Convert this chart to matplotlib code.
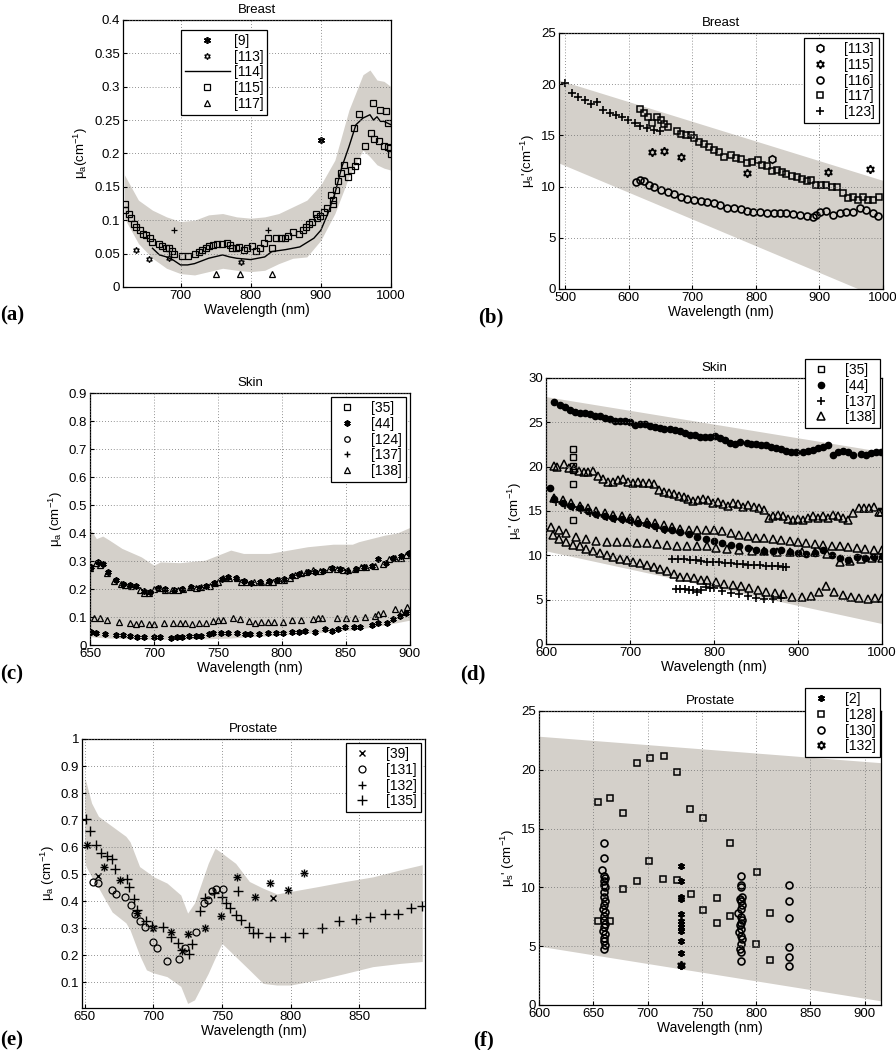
import numpy as np
import matplotlib
matplotlib.use('Agg')
import matplotlib.pyplot as plt

plt.rcParams['font.family'] = ['Liberation Sans', 'DejaVu Sans']
plt.rcParams['mathtext.default'] = 'regular'
plt.rcParams['font.size'] = 9

BAND = '#d4d0ca'
ASTER = (6, 2, 0)
HEXA = (6, 1, 0)

# ---------------- (a) Breast, absorption ----------------
a_band_wl = [620, 640, 660, 680, 700, 720, 740, 760, 780, 800, 820, 840, 860, 880, 900,
             920, 940, 960, 970, 980, 990, 1000]
a_band_hi = [0.168, 0.13, 0.115, 0.105, 0.098, 0.1, 0.108, 0.11, 0.105, 0.103, 0.105, 0.11,
             0.12, 0.13, 0.153, 0.19, 0.265, 0.318, 0.325, 0.31, 0.308, 0.30]
a_band_lo = [0.103, 0.065, 0.043, 0.028, 0.02, 0.018, 0.023, 0.028, 0.025, 0.023, 0.025, 0.035,
             0.043, 0.045, 0.07, 0.11, 0.165, 0.205, 0.195, 0.183, 0.178, 0.175]
a9_wl = [900]
a9_mua = [0.22]
a113_wl = [637, 655, 683, 786]
a113_mua = [0.055, 0.042, 0.043, 0.038]
a114_wl = [660, 670, 680, 690, 700, 710, 720, 740, 760, 770, 780, 800, 820, 830, 850, 870,
           890, 900, 910, 920, 930, 940, 950, 960, 970, 975, 980, 985, 990, 1000]
a114_mua = [0.058, 0.048, 0.045, 0.04, 0.033, 0.033, 0.035, 0.043, 0.048, 0.045, 0.043, 0.041,
            0.045, 0.053, 0.056, 0.06, 0.073, 0.085, 0.11, 0.14, 0.18, 0.21, 0.243, 0.253,
            0.258, 0.25, 0.255, 0.248, 0.248, 0.243]
a115_wl = [621, 621, 626, 630, 633, 637, 642, 647, 651, 656, 660, 669, 674, 679, 683, 688, 691,
           702, 711, 721, 726, 731, 736, 740, 746, 752, 759, 766, 770, 774, 779, 783, 790, 795,
           802, 807, 813, 819, 824, 830, 836, 843, 849, 853, 861, 869, 874, 879, 883, 888, 893,
           895, 899, 904, 909, 914, 917, 918, 921, 925, 929, 933, 938, 943, 948, 952, 947, 955,
           963, 972, 974, 976, 983, 985, 990, 993, 996, 996, 999, 1000]
a115_mua = [0.124, 0.116, 0.11, 0.103, 0.095, 0.09, 0.085, 0.08, 0.078, 0.073, 0.068, 0.064,
            0.061, 0.059, 0.058, 0.054, 0.05, 0.046, 0.046, 0.049, 0.053, 0.056, 0.059, 0.061,
            0.063, 0.064, 0.065, 0.066, 0.063, 0.059, 0.058, 0.06, 0.056, 0.059, 0.061, 0.054,
            0.059, 0.066, 0.074, 0.059, 0.073, 0.073, 0.074, 0.076, 0.083, 0.079, 0.086, 0.09,
            0.094, 0.098, 0.11, 0.103, 0.106, 0.113, 0.118, 0.138, 0.125, 0.131, 0.145, 0.158,
            0.17, 0.183, 0.165, 0.175, 0.181, 0.188, 0.238, 0.259, 0.211, 0.23, 0.275, 0.221,
            0.219, 0.265, 0.211, 0.263, 0.209, 0.246, 0.208, 0.199]
a117_wl = [750, 785, 830]
a117_mua = [0.02, 0.02, 0.02]
a_plus_wl = [690, 825]
a_plus_mua = [0.085, 0.085]

# ---------------- (b) Breast, scattering ----------------
b_band_wl = [490, 1000]
b_band_hi = [20.4, 10.6]
b_band_lo = [12.3, -1.0]
b113_wl = [825]
b113_mus = [12.7]
b115_wl = [636, 656, 682, 786, 913, 979]
b115_mus = [13.4, 13.5, 12.9, 11.3, 11.4, 11.7]
b116_wl = [611, 617, 624, 632, 640, 650, 661, 671, 682, 692, 703, 713, 723, 734, 744, 755, 765,
           776, 786, 796, 807, 817, 828, 838, 848, 859, 869, 880, 890, 895, 901, 911, 921, 932,
           942, 953, 963, 973, 984, 992]
b116_mus = [10.4, 10.6, 10.5, 10.2, 10.0, 9.7, 9.5, 9.3, 9.0, 8.8, 8.7, 8.6, 8.5, 8.4, 8.2, 7.9,
            7.9, 7.8, 7.6, 7.5, 7.5, 7.4, 7.4, 7.4, 7.4, 7.3, 7.2, 7.1, 7.05, 7.2, 7.5, 7.6, 7.2,
            7.4, 7.5, 7.5, 7.9, 7.7, 7.4, 7.1]
b117_wl = [617, 624, 630, 636, 644, 651, 656, 661, 676, 682, 690, 697, 703, 710, 718, 726, 734,
           742, 749, 760, 768, 776, 786, 794, 804, 809, 817, 825, 833, 841, 848, 856, 864, 872,
           880, 887, 895, 903, 911, 919, 927, 937, 945, 953, 960, 968, 976, 984, 994]
b117_mus = [17.6, 17.2, 16.8, 16.2, 16.8, 16.5, 16.1, 15.8, 15.4, 15.1, 15.0, 15.0, 14.7, 14.4,
            14.2, 13.9, 13.6, 13.4, 12.9, 13.1, 12.8, 12.7, 12.3, 12.4, 12.6, 12.1, 12.0, 11.5,
            11.6, 11.4, 11.2, 11.0, 10.9, 10.7, 10.5, 10.6, 10.2, 10.2, 10.2, 10.0, 10.0, 9.4,
            8.9, 9.0, 8.7, 9.0, 8.7, 8.7, 9.0]
b123_wl = [500, 511, 520, 531, 540, 550, 560, 570, 580, 589, 599, 609, 618, 629, 639, 649]
b123_mus = [20.1, 19.1, 18.7, 18.5, 18.1, 18.3, 17.5, 17.2, 17.0, 16.8, 16.5, 16.2, 15.9, 15.7,
            15.5, 15.4]

# ---------------- (c) Skin, absorption ----------------
c_band_wl = [650, 655, 660, 665, 675, 690, 700, 705, 720, 740, 760, 770, 790, 800, 820, 840,
             855, 860, 880, 890, 900]
c_band_hi = [0.416, 0.38, 0.389, 0.375, 0.345, 0.315, 0.285, 0.297, 0.294, 0.303, 0.339, 0.327,
             0.327, 0.335, 0.351, 0.36, 0.36, 0.369, 0.392, 0.4, 0.42]
c_band_lo = [0.03, 0.028, 0.026, 0.025, 0.023, 0.021, 0.02, 0.02, 0.021, 0.022, 0.025, 0.028,
             0.033, 0.036, 0.042, 0.048, 0.054, 0.057, 0.071, 0.08, 0.089]
c44_wl = [651, 656, 660, 664, 670, 676, 681, 686, 692, 697, 703, 709, 716, 722, 729, 735, 741,
          747, 753, 758, 764, 770, 776, 783, 790, 796, 802, 808, 813, 820, 826, 832, 839, 845,
          851, 858, 864, 870, 875, 881, 887, 893, 899,
          651, 655, 662, 670, 676, 681, 687, 692, 700, 705, 713, 718, 722, 727, 733, 737, 743,
          746, 752, 758, 765, 771, 775, 782, 789, 795, 801, 808, 813, 818, 826, 834, 839, 844,
          849, 856, 861, 870, 875, 882, 887, 892, 897]
c44_mua = [0.28, 0.296, 0.29, 0.262, 0.232, 0.218, 0.215, 0.21, 0.193, 0.188, 0.204, 0.2,
           0.196, 0.2, 0.207, 0.205, 0.212, 0.222, 0.234, 0.242, 0.238, 0.228, 0.222, 0.225,
           0.23, 0.232, 0.236, 0.245, 0.255, 0.26, 0.262, 0.266, 0.275, 0.27, 0.265, 0.272, 0.277,
           0.282, 0.306, 0.292, 0.311, 0.317, 0.33,
           0.048, 0.042, 0.039, 0.036, 0.036, 0.032, 0.03, 0.03, 0.03, 0.027, 0.026, 0.027, 0.03,
           0.032, 0.033, 0.033, 0.038, 0.042, 0.042, 0.044, 0.042, 0.039, 0.039, 0.038, 0.042,
           0.044, 0.044, 0.046, 0.048, 0.05, 0.048, 0.056, 0.051, 0.056, 0.063, 0.065, 0.065,
           0.071, 0.077, 0.08, 0.092, 0.103, 0.113]
c138_wl = [650, 655, 658, 663, 669, 674, 677, 682, 689, 692, 696, 700, 705, 709, 714, 719, 723,
           728, 733, 737, 744, 748, 750, 754, 759, 765, 768, 772, 778, 784, 789, 793, 798, 802,
           806, 810, 815, 819, 824, 830, 837, 843, 848, 852, 857, 862, 866, 873, 879, 884, 888,
           893, 897,
           653, 658, 663, 673, 681, 686, 690, 696, 700, 708, 715, 720, 724, 730, 735, 741, 746,
           750, 754, 762, 767, 774, 779, 784, 789, 794, 801, 808, 815, 824, 828, 831, 843, 850,
           857, 865, 873, 875, 879, 888, 893, 898]
c138_mua = [0.276, 0.294, 0.285, 0.256, 0.229, 0.218, 0.214, 0.21, 0.196, 0.187, 0.187, 0.199,
            0.202, 0.196, 0.196, 0.196, 0.199, 0.206, 0.202, 0.208, 0.21, 0.22, 0.226, 0.238,
            0.241, 0.241, 0.226, 0.226, 0.224, 0.224, 0.224, 0.226, 0.232, 0.232, 0.241, 0.25,
            0.258, 0.262, 0.268, 0.264, 0.273, 0.273, 0.268, 0.268, 0.273, 0.279, 0.279, 0.283,
            0.288, 0.306, 0.309, 0.312, 0.321,
            0.095, 0.095, 0.089, 0.083, 0.08, 0.075, 0.077, 0.075, 0.074, 0.077, 0.077, 0.077,
            0.077, 0.075, 0.08, 0.08, 0.086, 0.089, 0.089, 0.095, 0.092, 0.087, 0.08, 0.083,
            0.083, 0.083, 0.083, 0.089, 0.089, 0.092, 0.095, 0.095, 0.098, 0.098, 0.098, 0.101,
            0.103, 0.11, 0.113, 0.127, 0.119, 0.137]

# ---------------- (d) Skin, scattering ----------------
d_band_wl = [600, 1000]
d_band_hi = [27.9, 21.7]
d_band_lo = [10.5, 2.3]
d35_wl = [632, 632, 632, 632, 632, 632]
d35_mus = [22.0, 21.1, 20.1, 19.6, 18.0, 14.0]
d44_wl = [605, 610, 617, 623, 628, 634, 640, 646, 652, 658, 664, 670, 676, 682, 688, 694, 700,
          706, 712, 718, 724, 730, 736, 741, 747, 753, 759, 765, 771, 777, 783, 789, 795, 801,
          807, 813, 819, 825, 831, 839, 844, 850, 856, 862, 868, 874, 880, 886, 892, 898, 906,
          912, 918, 924, 930, 936, 942, 948, 954, 960, 965, 975, 981, 987, 993, 999,
          610, 620, 630, 640, 650, 660, 670, 680, 690, 700, 710, 720, 730, 740, 750, 760, 770,
          780, 790, 800, 810, 820, 830, 840, 850, 860, 870, 880, 890, 900, 910, 920, 930, 940,
          950, 960, 970, 980, 990, 1000]
d44_mus = [17.6, 27.3, 26.9, 26.7, 26.4, 26.2, 26.1, 26.0, 25.9, 25.7, 25.7, 25.5, 25.4, 25.2,
           25.1, 25.1, 25.0, 24.7, 24.8, 24.8, 24.6, 24.5, 24.4, 24.2, 24.2, 24.1, 24.0, 23.8,
           23.6, 23.6, 23.4, 23.3, 23.4, 23.5, 23.2, 23.0, 22.7, 22.6, 22.8, 22.7, 22.6, 22.5,
           22.4, 22.4, 22.2, 22.1, 22.0, 21.8, 21.7, 21.6, 21.7, 21.8, 21.9, 22.1, 22.2, 22.4,
           21.3, 21.6, 21.8, 21.7, 21.3, 21.4, 21.3, 21.5, 21.6, 21.7,
           16.3, 15.9, 15.6, 15.3, 15.0, 14.7, 14.4, 14.2, 14.1, 14.0, 13.7, 13.5, 13.3, 13.0,
           12.8, 12.6, 12.4, 12.1, 11.8, 11.6, 11.4, 11.2, 11.0, 10.8, 10.6, 10.5, 10.5, 10.6,
           10.4, 10.3, 10.2, 10.3, 10.6, 10.0, 9.7, 9.5, 9.8, 9.7, 9.8, 9.9]
d137_wl = [612, 622, 632, 642, 652, 662, 672, 682, 692, 702, 712, 722, 732, 742,
           750, 757, 764, 771, 778, 785, 792, 799, 806, 813, 820, 827, 834, 841, 848, 855, 862,
           869, 876, 882, 886,
           755, 760, 765, 770, 775, 780, 785, 790, 795, 800, 810, 820, 830, 840, 850, 860, 870,
           880]
d137_mus = [16.0, 15.7, 15.4, 15.1, 14.8, 14.5, 14.3, 14.1, 14.0, 13.8, 13.6, 13.4, 13.1, 12.9,
            9.6, 9.6, 9.6, 9.5, 9.5, 9.4, 9.3, 9.3, 9.2, 9.1, 9.1, 9.0, 9.0, 8.9, 8.9, 8.9, 8.8,
            8.8, 8.8, 8.7, 8.7,
            6.2, 6.2, 6.2, 6.1, 6.1, 5.9, 6.1, 6.4, 6.3, 6.3, 6.0, 5.8, 5.6, 5.4, 5.2, 5.1, 5.1,
            5.2]
d138_wl = [609, 613, 621, 627, 633, 639, 645, 650, 656, 662, 668, 674, 680, 686, 692, 698, 704,
           710, 716, 722, 728, 734, 740, 746, 752, 758, 764, 769, 775, 781, 787, 793, 799, 805,
           811, 817, 823, 829, 835, 841, 847, 853, 859, 865, 870, 876, 882, 888, 894, 900, 906,
           912, 918, 924, 930, 936, 942, 948, 954, 960, 966, 972, 978, 984, 990, 996, 999,
           610, 620, 630, 640, 650, 660, 670, 680, 690, 700, 710, 720, 730, 740, 750, 760, 770,
           780, 790, 800, 810, 820, 830, 840, 850, 860, 870, 880, 890, 900, 910, 920, 930, 940,
           950, 960, 970, 980, 990, 1000,
           606, 615, 624, 636, 648, 660, 672, 684, 696, 708, 720, 732, 744, 756, 768, 780, 792,
           802, 815, 830, 845, 860, 875, 890, 905, 920, 935, 950, 962, 975, 988, 1000,
           608, 616, 624, 632, 640, 648, 656, 664, 672, 680, 688, 696, 704, 712, 720, 728, 736,
           744, 752, 760, 768, 776, 784, 792, 802, 812, 822, 832, 842, 852, 862, 872, 882, 893,
           905, 915, 925, 933, 943, 953, 963, 973, 983, 992, 1000]
d138_mus = [20.1, 20.0, 20.3, 19.9, 19.8, 19.5, 19.4, 19.4, 19.5, 18.9, 18.6, 18.3, 18.3, 18.5,
            18.6, 18.3, 18.1, 18.3, 18.2, 18.1, 18.0, 17.4, 17.1, 17.0, 16.9, 16.7, 16.6, 16.3,
            16.1, 16.2, 16.3, 16.2, 15.9, 16.0, 15.8, 15.6, 15.9, 15.8, 15.5, 15.7, 15.5, 15.3,
            15.1, 14.2, 14.4, 14.6, 14.4, 14.1, 14.0, 14.1, 14.0, 14.2, 14.4, 14.2, 14.4, 14.2,
            14.6, 14.4, 14.2, 14.0, 14.8, 15.3, 15.3, 15.3, 15.5, 14.9, 14.9,
            16.5, 16.2, 15.9, 15.6, 15.3, 15.0, 14.8, 14.6, 14.4, 14.2, 14.0, 13.8, 13.6, 13.4,
            13.2, 13.0, 12.9, 12.8, 12.9, 12.9, 12.7, 12.5, 12.3, 12.2, 12.0, 11.9, 11.8, 11.7,
            11.6, 11.5, 11.4, 11.3, 11.2, 11.1, 11.0, 10.9, 10.8, 10.7, 10.6, 10.6,
            13.2, 12.8, 12.5, 12.1, 11.8, 11.6, 11.55, 11.5, 11.45, 11.4, 11.4, 11.3, 11.2, 11.1,
            11.1, 11.0, 11.0, 10.8, 10.7, 10.6, 10.5, 10.5, 10.4, 10.4, 10.4, 10.4, 10.2, 9.3,
            9.4, 9.6, 9.7, 9.7,
            12.3, 11.8, 11.55, 11.2, 11.0, 10.7, 10.5, 10.3, 10.05, 9.8, 9.6, 9.5, 9.3, 9.1, 8.9,
            8.7, 8.4, 8.2, 7.9, 7.6, 7.5, 7.4, 7.2, 7.2, 7.0, 6.8, 6.6, 6.5, 6.3, 6.1, 5.9, 5.8,
            5.6, 5.3, 5.3, 5.4, 5.9, 6.5, 5.9, 5.5, 5.3, 5.2, 5.1, 5.2, 5.2]

# ---------------- (e) Prostate, absorption ----------------
e_band_wl = [650, 651, 655, 660, 670, 680, 683, 690, 695, 700, 710, 720, 725, 730, 740, 745,
             750, 760, 770, 780, 790, 800, 820, 840, 860, 880, 896]
e_band_hi = [0.855, 0.84, 0.763, 0.714, 0.677, 0.64, 0.62, 0.528, 0.51, 0.491, 0.467, 0.423,
             0.356, 0.393, 0.54, 0.596, 0.578, 0.54, 0.473, 0.448, 0.427, 0.436, 0.454, 0.473,
             0.49, 0.516, 0.535]
e_band_lo = [0.55, 0.528, 0.49, 0.45, 0.36, 0.32, 0.294, 0.2, 0.146, 0.135, 0.121, 0.085, 0.022,
             0.035, 0.133, 0.19, 0.244, 0.195, 0.146, 0.096, 0.09, 0.09, 0.109, 0.133, 0.158,
             0.17, 0.177]
e39_wl = [652, 660, 664, 676, 688, 700, 713, 721, 725, 738, 749, 761, 774, 785, 787, 798, 810]
e39_mua = [0.609, 0.495, 0.528, 0.479, 0.356, 0.3, 0.285, 0.214, 0.279, 0.3, 0.347, 0.491,
           0.415, 0.467, 0.411, 0.442, 0.504]
e131_wl = [656, 660, 670, 673, 679, 684, 687, 690, 694, 700, 703, 710, 719, 723, 731, 737, 740,
           743, 746, 751]
e131_mua = [0.47, 0.467, 0.442, 0.427, 0.415, 0.386, 0.353, 0.328, 0.304, 0.248, 0.226, 0.177,
            0.185, 0.226, 0.285, 0.393, 0.405, 0.436, 0.444, 0.444]
e132_wl = [652, 664, 676, 688, 700, 713, 725, 738, 749, 761, 774, 785, 798, 810]
e132_mua = [0.609, 0.528, 0.479, 0.356, 0.3, 0.285, 0.279, 0.3, 0.347, 0.491, 0.415, 0.467,
            0.442, 0.504]
e135_wl = [651, 654, 658, 662, 666, 670, 672, 681, 682, 686, 688, 695, 699, 707, 713, 718, 721,
           726, 728, 734, 738, 744, 750, 753, 756, 760, 762, 764, 770, 773, 776, 785, 796, 809,
           823, 835, 848, 858, 869, 878, 888, 896]
e135_mua = [0.704, 0.658, 0.609, 0.578, 0.569, 0.557, 0.52, 0.481, 0.451, 0.407, 0.368, 0.327,
            0.31, 0.304, 0.269, 0.247, 0.22, 0.204, 0.241, 0.362, 0.411, 0.432, 0.417, 0.393,
            0.374, 0.35, 0.436, 0.331, 0.306, 0.281, 0.281, 0.267, 0.267, 0.281, 0.302, 0.325,
            0.333, 0.34, 0.353, 0.353, 0.374, 0.383]

# ---------------- (f) Prostate, scattering ----------------
f_band_wl = [600, 915]
f_band_hi = [22.85, 20.6]
f_band_lo = [5.0, 0.35]
f2_wl = [731] * 12
f2_mus = [11.8, 10.5, 9.2, 9.0, 7.7, 7.1, 6.9, 6.6, 6.3, 5.4, 4.4, 3.3]
f128_wl = [654, 665, 677, 690, 702, 715, 727, 739, 751, 776, 701, 690, 677, 714, 727, 740, 751,
           764, 764, 776, 801, 813, 800, 813, 654, 665]
f128_mus = [17.3, 17.6, 16.3, 20.6, 21.0, 21.2, 19.8, 16.7, 15.9, 13.8, 12.2, 10.5, 9.85, 10.7,
            10.6, 9.4, 8.1, 9.1, 7.0, 7.6, 11.3, 7.8, 5.2, 3.8, 7.1, 7.1]
f130_wl = [660, 660, 658, 660, 661, 660, 660, 661, 660, 660, 661, 660, 659, 661, 660, 660, 661,
           660, 659, 661, 660, 660, 661, 660,
           786, 786, 786, 787, 785, 786, 787, 786, 783, 786, 787, 786, 785, 786, 784, 786, 787,
           786, 785, 786, 786,
           830, 830, 830, 830, 830, 830]
f130_mus = [13.8, 12.5, 11.5, 11.0, 10.8, 10.5, 10.2, 10.0, 9.6, 9.2, 8.8, 8.5, 8.2, 7.9, 7.6,
            7.2, 6.9, 6.6, 6.3, 6.0, 5.7, 5.4, 5.1, 4.8,
            11.0, 10.2, 10.0, 9.2, 9.0, 8.8, 8.5, 8.2, 7.8, 7.5, 7.2, 7.0, 6.8, 6.5, 6.2, 5.9,
            5.6, 5.2, 4.8, 4.5, 3.7,
            10.2, 8.8, 7.4, 4.9, 4.1, 3.3]
f132_wl = [731]
f132_mus = [3.4]


def style(ax, xlim, ylim, xticks, yticks, title, ylabel, yfmt=None):
    ax.set_xlim(xlim)
    ax.set_ylim(ylim)
    ax.set_xticks(xticks)
    ax.set_yticks(yticks)
    if yfmt:
        ax.set_yticklabels([yfmt(v) for v in yticks])
    ax.grid(True, color='#707070', linestyle=(0, (1, 2.5)), linewidth=0.6)
    ax.set_axisbelow(False)
    ax.tick_params(direction='in', length=3, labelsize=9.5, pad=2)
    for s in ax.spines.values():
        s.set_linewidth(0.9)
    ax.set_title(title, fontsize=9.5, pad=5)
    ax.set_xlabel('Wavelength (nm)', fontsize=10, labelpad=1)
    ax.set_ylabel(ylabel, fontsize=9.5, labelpad=3)


def legend(ax, anchor, handlelength=1.8):
    lg = ax.legend(loc='upper right', bbox_to_anchor=anchor, fontsize=10, fancybox=False,
                   edgecolor='black', framealpha=1, borderpad=0.3, labelspacing=0.12,
                   handlelength=handlelength, handletextpad=0.8, borderaxespad=0)
    lg.get_frame().set_linewidth(0.9)
    return lg


def num(v):
    return ('%g' % v)


mk = dict(linestyle='none', color='k', mfc='none', mec='k')

fig = plt.figure(figsize=(8.96, 10.5), dpi=100)

# (a)
ax = fig.add_axes([0.1373, 0.7267, 0.2991, 0.2543])
ax.fill_between(a_band_wl, a_band_lo, a_band_hi, color=BAND, lw=0, zorder=0)
ax.plot(a9_wl, a9_mua, marker=ASTER, ms=5, mew=1.2, label='[9]', **mk)
ax.plot(a113_wl, a113_mua, marker=HEXA, ms=4.5, mew=0.9, label='[113]', **mk)
ax.plot(a114_wl, a114_mua, color='k', lw=1.0, label='[114]')
ax.plot(a115_wl, a115_mua, marker='s', ms=5, mew=0.9, label='[115]', **mk)
ax.plot(a117_wl, a117_mua, marker='^', ms=5, mew=0.9, label='[117]', **mk)
ax.plot(a_plus_wl, a_plus_mua, marker='+', ms=5, mew=0.9, **mk)
style(ax, (618, 1000), (0, 0.4), [700, 800, 900, 1000], np.arange(0, 0.401, 0.05),
      'Breast', 'μ$_a$(cm$^{-1}$)', yfmt=num)
ax.title.set_position((0.5, 1.0))
lg = ax.legend(loc='upper left', bbox_to_anchor=(0.216, 0.963), fontsize=10, fancybox=False,
               edgecolor='black', framealpha=1, borderpad=0.3, labelspacing=0.12,
               handlelength=3.2, handletextpad=0.3, borderaxespad=0)
lg.get_frame().set_linewidth(0.9)

# (b)
ax = fig.add_axes([0.6239, 0.7248, 0.3616, 0.2438])
ax.fill_between(b_band_wl, b_band_lo, b_band_hi, color=BAND, lw=0, zorder=0)
ax.plot(b113_wl, b113_mus, marker='h', ms=5.5, mew=1.2, label='[113]', **mk)
ax.plot(b115_wl, b115_mus, marker=HEXA, ms=6, mew=1.2, label='[115]', **mk)
ax.plot(b116_wl, b116_mus, marker='o', ms=5, mew=1.2, label='[116]', **mk)
ax.plot(b117_wl, b117_mus, marker='s', ms=5, mew=1.1, label='[117]', **mk)
ax.plot(b123_wl, b123_mus, marker='+', ms=6, mew=1.2, label='[123]', **mk)
style(ax, (490, 1000), (0, 25), [500, 600, 700, 800, 900, 1000], [0, 5, 10, 15, 20, 25],
      'Breast', "μ$_s$'(cm$^{-1}$)")
legend(ax, (0.988, 0.98))

# (c)
ax = fig.add_axes([0.1004, 0.3857, 0.3571, 0.24])
ax.fill_between(c_band_wl, c_band_lo, c_band_hi, color=BAND, lw=0, zorder=0)
ax.plot([], [], marker='s', ms=4, mew=0.9, label='[35]', **mk)
ax.plot(c44_wl, c44_mua, marker=ASTER, ms=4.5, mew=1.3, label='[44]', **mk)
ax.plot([], [], marker='o', ms=4, mew=0.9, label='[124]', **mk)
ax.plot([], [], marker='+', ms=5, mew=1.0, label='[137]', **mk)
ax.plot(c138_wl, c138_mua, marker='^', ms=5, mew=0.9, label='[138]', **mk)
style(ax, (650, 900), (0, 0.9), [650, 700, 750, 800, 850, 900], np.arange(0, 0.901, 0.1),
      'Skin', 'μ$_a$ (cm$^{-1}$)', yfmt=num)
legend(ax, (0.988, 0.984))

# (d)
ax = fig.add_axes([0.6094, 0.3867, 0.375, 0.2533])
ax.fill_between(d_band_wl, d_band_lo, d_band_hi, color=BAND, lw=0, zorder=0)
ax.plot(d35_wl, d35_mus, marker='s', ms=4.5, mew=1.0, label='[35]', **mk)
ax.plot(d44_wl, d44_mus, linestyle='none', marker='o', ms=4.5, color='k', label='[44]')
ax.plot(d137_wl, d137_mus, marker='+', ms=6, mew=1.2, label='[137]', **mk)
ax.plot(d138_wl, d138_mus, marker='^', ms=6, mew=1.1, label='[138]', **mk)
style(ax, (600, 1000), (0, 30), [600, 700, 800, 900, 1000], [0, 5, 10, 15, 20, 25, 30],
      'Skin', "μ$_s$' (cm$^{-1}$)")
legend(ax, (0.994, 1.071))

# (e)
ax = fig.add_axes([0.0915, 0.04, 0.3828, 0.2562])
ax.fill_between(e_band_wl, e_band_lo, e_band_hi, color=BAND, lw=0, zorder=0)
ax.plot(e39_wl, e39_mua, marker='x', ms=4.5, mew=1.0, label='[39]', **mk)
ax.plot(e131_wl, e131_mua, marker='o', ms=5, mew=0.9, label='[131]', **mk)
ax.plot(e132_wl, e132_mua, marker='+', ms=6, mew=1.0, label='[132]', **mk)
ax.plot(e135_wl, e135_mua, marker='+', ms=6.5, mew=1.0, label='[135]', **mk)
style(ax, (648, 898), (0.005, 1.0), [650, 700, 750, 800, 850], np.arange(0.1, 1.001, 0.1),
      'Prostate', 'μ$_a$ (cm$^{-1}$)', yfmt=num)
legend(ax, (0.988, 0.985))

# (f)
ax = fig.add_axes([0.6016, 0.0429, 0.3817, 0.28])
ax.fill_between(f_band_wl, f_band_lo, f_band_hi, color=BAND, lw=0, zorder=0)
ax.plot(f2_wl, f2_mus, marker=ASTER, ms=5, mew=1.3, label='[2]', **mk)
ax.plot(f128_wl, f128_mus, marker='s', ms=5, mew=1.1, label='[128]', **mk)
ax.plot(f130_wl, f130_mus, marker='o', ms=5, mew=1.2, label='[130]', **mk)
ax.plot(f132_wl, f132_mus, marker=HEXA, ms=6, mew=1.3, label='[132]', **mk)
style(ax, (600, 915), (0, 25), [600, 650, 700, 750, 800, 850, 900], [0, 5, 10, 15, 20, 25],
      'Prostate', "μ$_s$' (cm$^{-1}$)")
ax.title.set_y(1.0)
legend(ax, (0.997, 1.078))

# panel letters
letter = dict(fontsize=15, fontweight='bold', family=['Liberation Serif', 'DejaVu Serif'],
              va='center', ha='left')
fig.text(0.0, 1 - 315 / 1050, '(a)', **letter)
fig.text(478 / 896, 1 - 317 / 1050, '(b)', **letter)
fig.text(0.0, 1 - 674 / 1050, '(c)', **letter)
fig.text(460 / 896, 1 - 674 / 1050, '(d)', **letter)
fig.text(0.0, 1 - 1040 / 1050, '(e)', **letter)
fig.text(473 / 896, 1 - 1040 / 1050, '(f)', **letter)

fig.savefig('out.png', dpi=100)
